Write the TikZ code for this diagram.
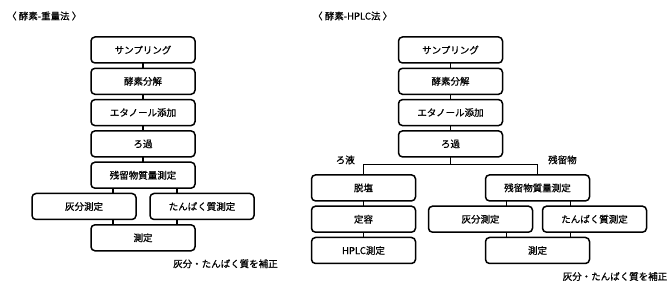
\documentclass[tikz,border=0pt]{standalone}
\usepackage{fontspec}
\setmainfont{Noto Sans CJK JP}[FakeBold=0.7]
\usepackage{tikz}
\usetikzlibrary{positioning,calc}

\begin{document}
\begin{tikzpicture}[
  x=1pt, y=-1pt,
  node distance=5.3pt and 13pt,
  step_box/.style={draw=black, line width=1.5pt, fill=white, rounded corners=4pt, minimum width=104pt, minimum height=26pt, inner sep=0pt, outer sep=0pt, align=center, font=\fontsize{9.5}{11}\selectfont},
  link/.style    ={line width=1.2pt, black},
  lbl/.style     ={font=\fontsize{9.5}{11}\selectfont, inner sep=0pt},
  ttl/.style     ={font=\fontsize{9.5}{11}\selectfont, anchor=west, inner sep=0pt},
]
  \useasboundingbox (0,0) rectangle (670,288);

  \node[ttl] (title_l) at (7,16)   {〈 酵素-重量法 〉};
  \node[ttl] (title_r) at (313,16) {〈 酵素-HPLC法 〉};

  % 酵素-重量法
  \node[step_box]                            (samp_l) at (143,50) {サンプリング};
  \node[step_box, below=of samp_l]           (koso_l)             {酵素分解};
  \node[step_box, below=of koso_l]           (etan_l)             {エタノール添加};
  \node[step_box, below=of etan_l]           (roka_l)             {ろ過};
  \node[step_box, below=of roka_l]           (zan_l)              {残留物質量測定};
  \node[step_box, below=of zan_l, xshift=-59pt] (hai_l)           {灰分測定};
  \node[step_box, below=of zan_l, xshift=59pt]  (tan_l)           {たんぱく質測定};
  \node[step_box, below=of hai_l, xshift=59pt]  (sok_l)           {測定};
  \node[lbl, anchor=west] (hosei_l) at ([xshift=30pt,yshift=-13pt]sok_l.south) {灰分・たんぱく質を補正};

  \draw[link] (samp_l) -- (koso_l);
  \draw[link] (koso_l) -- (etan_l);
  \draw[link] (etan_l) -- (roka_l);
  \draw[link] (roka_l) -- (zan_l);
  \draw[link] ([xshift=-30pt]zan_l.south) -- ([xshift=-30pt]zan_l.south |- hai_l.north);
  \draw[link] ([xshift=34pt]zan_l.south)  -- ([xshift=34pt]zan_l.south |- tan_l.north);
  \draw[link] ([xshift=-30pt]sok_l.north |- hai_l.south) -- ([xshift=-30pt]sok_l.north);
  \draw[link] ([xshift=34pt]sok_l.north |- tan_l.south)  -- ([xshift=34pt]sok_l.north);

  % 酵素-HPLC法
  \node[step_box]                            (samp_r) at (450.5,50) {サンプリング};
  \node[step_box, below=of samp_r]           (koso_r)               {酵素分解};
  \node[step_box, below=of koso_r]           (etan_r)               {エタノール添加};
  \node[step_box, below=of etan_r]           (roka_r)               {ろ過};
  \node[step_box, below=18pt of roka_r, xshift=-87pt] (datsu)       {脱塩};
  \node[step_box, below=of datsu]            (teiyo)                {定容};
  \node[step_box, below=of teiyo]            (hplc)                 {HPLC測定};
  \node[step_box, below=18pt of roka_r, xshift=87pt]  (zan_r)       {残留物質量測定};
  \node[step_box, below=of zan_r, xshift=-57pt] (hai_r)             {灰分測定};
  \node[step_box, below=of zan_r, xshift=57pt]  (tan_r)             {たんぱく質測定};
  \node[step_box, below=of hai_r, xshift=57pt]  (sok_r)             {測定};
  \node[lbl, anchor=west] (hosei_r) at ([xshift=25pt,yshift=-13pt]sok_r.south) {灰分・たんぱく質を補正};

  \draw[link] (samp_r) -- (koso_r);
  \draw[link] (koso_r) -- (etan_r);
  \draw[link] (etan_r) -- (roka_r);
  \draw[link] (roka_r.south) -- ++(0,-8pt) coordinate (fork);
  \draw[link] (datsu.north) |- (fork) -| (zan_r.north);
  \node[lbl, anchor=east] (roeki)  at ([xshift=-8.5pt,yshift=5pt]datsu.north |- fork) {ろ液};
  \node[lbl, anchor=west] (zanbun) at ([xshift=10.5pt,yshift=5pt]zan_r.north |- fork) {残留物};
  \draw[link] (datsu) -- (teiyo);
  \draw[link] (teiyo) -- (hplc);
  \draw[link] ([xshift=-31pt]zan_r.south) -- ([xshift=-31pt]zan_r.south |- hai_r.north);
  \draw[link] ([xshift=33pt]zan_r.south)  -- ([xshift=33pt]zan_r.south |- tan_r.north);
  \draw[link] ([xshift=-31pt]sok_r.north |- hai_r.south) -- ([xshift=-31pt]sok_r.north);
  \draw[link] ([xshift=33pt]sok_r.north |- tan_r.south)  -- ([xshift=33pt]sok_r.north);
\end{tikzpicture}
\end{document}
